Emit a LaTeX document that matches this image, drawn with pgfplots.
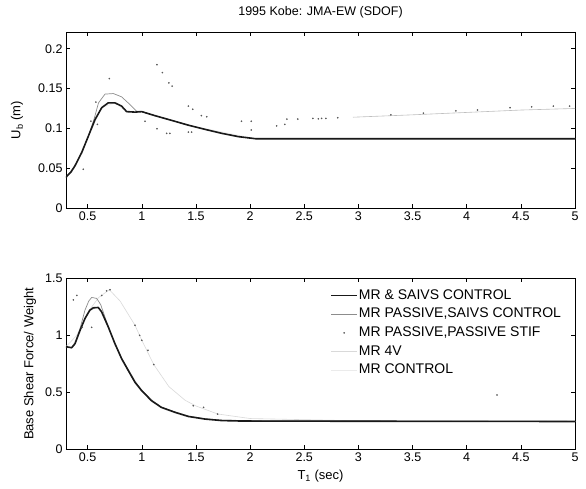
\documentclass[border=0pt]{standalone}
\usepackage{pgfplots}
\pgfplotsset{compat=1.18}
\usepackage{fontspec}
\setmainfont{Liberation Sans}
\begin{document}
\begin{tikzpicture}
\pgfplotsset{
  base/.style={
    scale only axis, width=509pt, xmin=0.3, xmax=5,
    xtick={0.5,1,1.5,2,2.5,3,3.5,4,4.5,5},
    tick align=inside, major tick length=4pt,
    axis line style={black, line width=0.6pt},
    tick style={black, line width=0.5pt},
    ticklabel style={font=\fontsize{12.5}{12.5}\selectfont},
    /pgf/number format/assume math mode=true,
    label style={font=\fontsize{13}{13}\selectfont},
    legend image code/.code={\draw[mark repeat=2,mark phase=2,##1] plot coordinates {(0pt,0pt) (13pt,0pt) (26pt,0pt)};},
  },
  solidS/.style={black!90, line width=1.6pt, line join=round},
  grayS/.style={black!45, line width=0.7pt},
  dotS/.style={only marks, mark=*, mark size=0.6pt, black!65},
  fourS/.style={black!15, line width=0.6pt},
  ctrlS/.style={black!8, line width=0.6pt},
}
\useasboundingbox (-66pt,-38.7pt) rectangle (520pt,449.3pt);
% ---------------- top axis ----------------
\begin{axis}[base, at={(0pt,241.3pt)}, anchor=south west, height=176pt,
  ymin=0, ymax=0.221, ytick={0,0.05,0.1,0.15,0.2},
  yticklabel style={/pgf/number format/fixed, /pgf/number format/precision=2},
  scaled y ticks=false,
  title={1995 Kobe: JMA-EW (SDOF)},
  title style={at={(0.5,1)}, anchor=south, yshift=4pt, font=\fontsize{12.5}{12.5}\selectfont},
  ylabel={U\textsubscript{b} (m)},
  ylabel style={at={(axis description cs:-0.0963,0.5)}, anchor=center},
]
% MR CONTROL (hidden under solid)
\addplot[ctrlS] coordinates {(0.3,0.038) (0.383,0.053) (0.507,0.0904) (0.63,0.126) (0.752,0.132) (0.86,0.121) (1.0,0.121) (1.43,0.104) (2.05,0.087) (5,0.087)};
% MR 4V
\addplot[black!25, line width=0.6pt] coordinates {(2.95,0.114) (3.5,0.117) (4.0,0.12) (4.5,0.123) (5,0.125)};
% MR PASSIVE, SAIVS CONTROL
\addplot[grayS] coordinates {(0.3,0.038) (0.383,0.053) (0.445,0.0696) (0.507,0.0904) (0.56,0.112) (0.6,0.132) (0.66,0.143) (0.737,0.1437) (0.813,0.1396) (0.89,0.13) (0.95,0.1217) (1.0,0.121) (1.12,0.116) (1.276,0.110) (1.43,0.104) (1.585,0.0987) (1.74,0.0937) (1.893,0.0896) (2.05,0.087) (5,0.087)};
% MR PASSIVE, PASSIVE STIF
\addplot[dotS] coordinates {(0.46,0.0487) (0.53,0.109) (0.576,0.133) (0.59,0.105) (0.70,0.1625) (1.03,0.109) (1.14,0.0996) (1.23,0.0937) (1.26,0.0937) (1.43,0.0954) (1.46,0.0954)
 (1.14,0.18) (1.19,0.17) (1.25,0.157) (1.28,0.153) (1.43,0.128) (1.47,0.124) (1.55,0.116) (1.6,0.1146) (1.92,0.109) (2.01,0.109) (2.01,0.098) (2.245,0.103) (2.32,0.105) (2.34,0.1116) (2.44,0.1116) (2.58,0.1125) (2.63,0.112) (2.66,0.1125) (2.70,0.1125) (2.81,0.1133) (3.3,0.117) (3.6,0.119) (3.9,0.122) (4.1,0.123) (4.4,0.126) (4.6,0.127) (4.8,0.128) (4.95,0.128)};
% MR & SAIVS CONTROL
\addplot[solidS] coordinates {(0.3,0.038) (0.306,0.0396) (0.345,0.045) (0.383,0.053) (0.445,0.0696) (0.507,0.0904) (0.568,0.111) (0.63,0.126) (0.69,0.132) (0.752,0.132) (0.813,0.128) (0.86,0.121) (0.937,0.1204) (1.0,0.121) (1.12,0.116) (1.276,0.110) (1.43,0.104) (1.585,0.0987) (1.74,0.0937) (1.893,0.0896) (2.05,0.087) (5,0.087)};
\end{axis}
% ---------------- bottom axis ----------------
\begin{axis}[base, at={(0pt,0pt)}, anchor=south west, height=171pt,
  ymin=0, ymax=1.5, ytick={0,0.5,1,1.5},
  ylabel={Base Shear Force/ Weight},
  ylabel style={at={(axis description cs:-0.0707,0.5)}, anchor=center},
  xlabel={T\textsubscript{1} (sec)},
  xlabel style={at={(axis description cs:0.5,0)}, anchor=north, yshift=-17pt},
  legend style={at={(axis description cs:0.519,0.943)}, anchor=north west, draw=none, fill=none,
    inner sep=0pt, row sep=4.2pt,
    nodes={inner sep=1pt, text height=9.8pt, text depth=2.7pt, font=\fontsize{14}{14}\selectfont}},
  legend cell align=left,
]
\addlegendimage{solidS}
\addlegendentry{MR \& SAIVS CONTROL}
\addlegendimage{grayS}
\addlegendentry{MR PASSIVE,SAIVS CONTROL}
\addlegendimage{dotS}
\addlegendentry{MR PASSIVE,PASSIVE STIF}
\addlegendimage{fourS}
\addlegendentry{MR 4V}
\addlegendimage{ctrlS}
\addlegendentry{MR CONTROL}
% MR CONTROL
\addplot[ctrlS, forget plot] coordinates {(0.3,0.9) (0.352,0.891) (0.43,1.044) (0.52,1.22) (0.598,1.244) (0.69,1.074) (0.814,0.794) (0.998,0.515) (1.18,0.368) (1.43,0.288) (1.74,0.252) (2.5,0.247) (5,0.244)};
% MR 4V
\addplot[fourS, forget plot] coordinates {(0.3,0.9) (0.4,1.0) (0.5,1.2) (0.6,1.33) (0.7,1.40) (0.8,1.3) (0.937,1.088) (1.0,0.956) (1.11,0.744) (1.25,0.55) (1.4,0.43) (1.5,0.38) (1.7,0.31) (2.0,0.27) (3,0.25) (5,0.245)};
% MR PASSIVE, SAIVS CONTROL
\addplot[grayS, forget plot] coordinates {(0.3,0.9) (0.352,0.891) (0.383,0.93) (0.43,1.06) (0.475,1.22) (0.51,1.3) (0.537,1.332) (0.583,1.324) (0.62,1.27) (0.66,1.16) (0.69,1.08) (0.752,0.93) (0.814,0.80) (0.875,0.70) (0.937,0.595) (1.0,0.52) (1.09,0.43) (1.18,0.372) (1.307,0.328) (1.43,0.292) (1.585,0.268) (1.74,0.256) (2.0,0.252) (3,0.25) (4,0.248) (5,0.245)};
% MR PASSIVE, PASSIVE STIF
\addplot[dotS, forget plot] coordinates {(0.368,1.31) (0.4,1.35) (0.45,1.07) (0.537,1.07) (0.63,1.35) (0.675,1.39) (0.706,1.40) (0.937,1.088) (0.98,1.0) (1.0,0.956) (1.057,0.868) (1.11,0.744) (1.475,0.382) (1.57,0.368) (1.70,0.309) (4.28,0.477)};
% MR & SAIVS CONTROL
\addplot[solidS, forget plot] coordinates {(0.3,0.9) (0.352,0.891) (0.383,0.926) (0.43,1.044) (0.475,1.147) (0.52,1.22) (0.552,1.241) (0.598,1.244) (0.629,1.206) (0.69,1.074) (0.752,0.926) (0.814,0.794) (0.875,0.691) (0.937,0.588) (0.998,0.515) (1.09,0.426) (1.18,0.368) (1.307,0.324) (1.43,0.288) (1.585,0.265) (1.74,0.252) (1.92,0.248) (2.5,0.247) (3,0.246) (4,0.245) (5,0.244)};
\end{axis}
\end{tikzpicture}
\end{document}
